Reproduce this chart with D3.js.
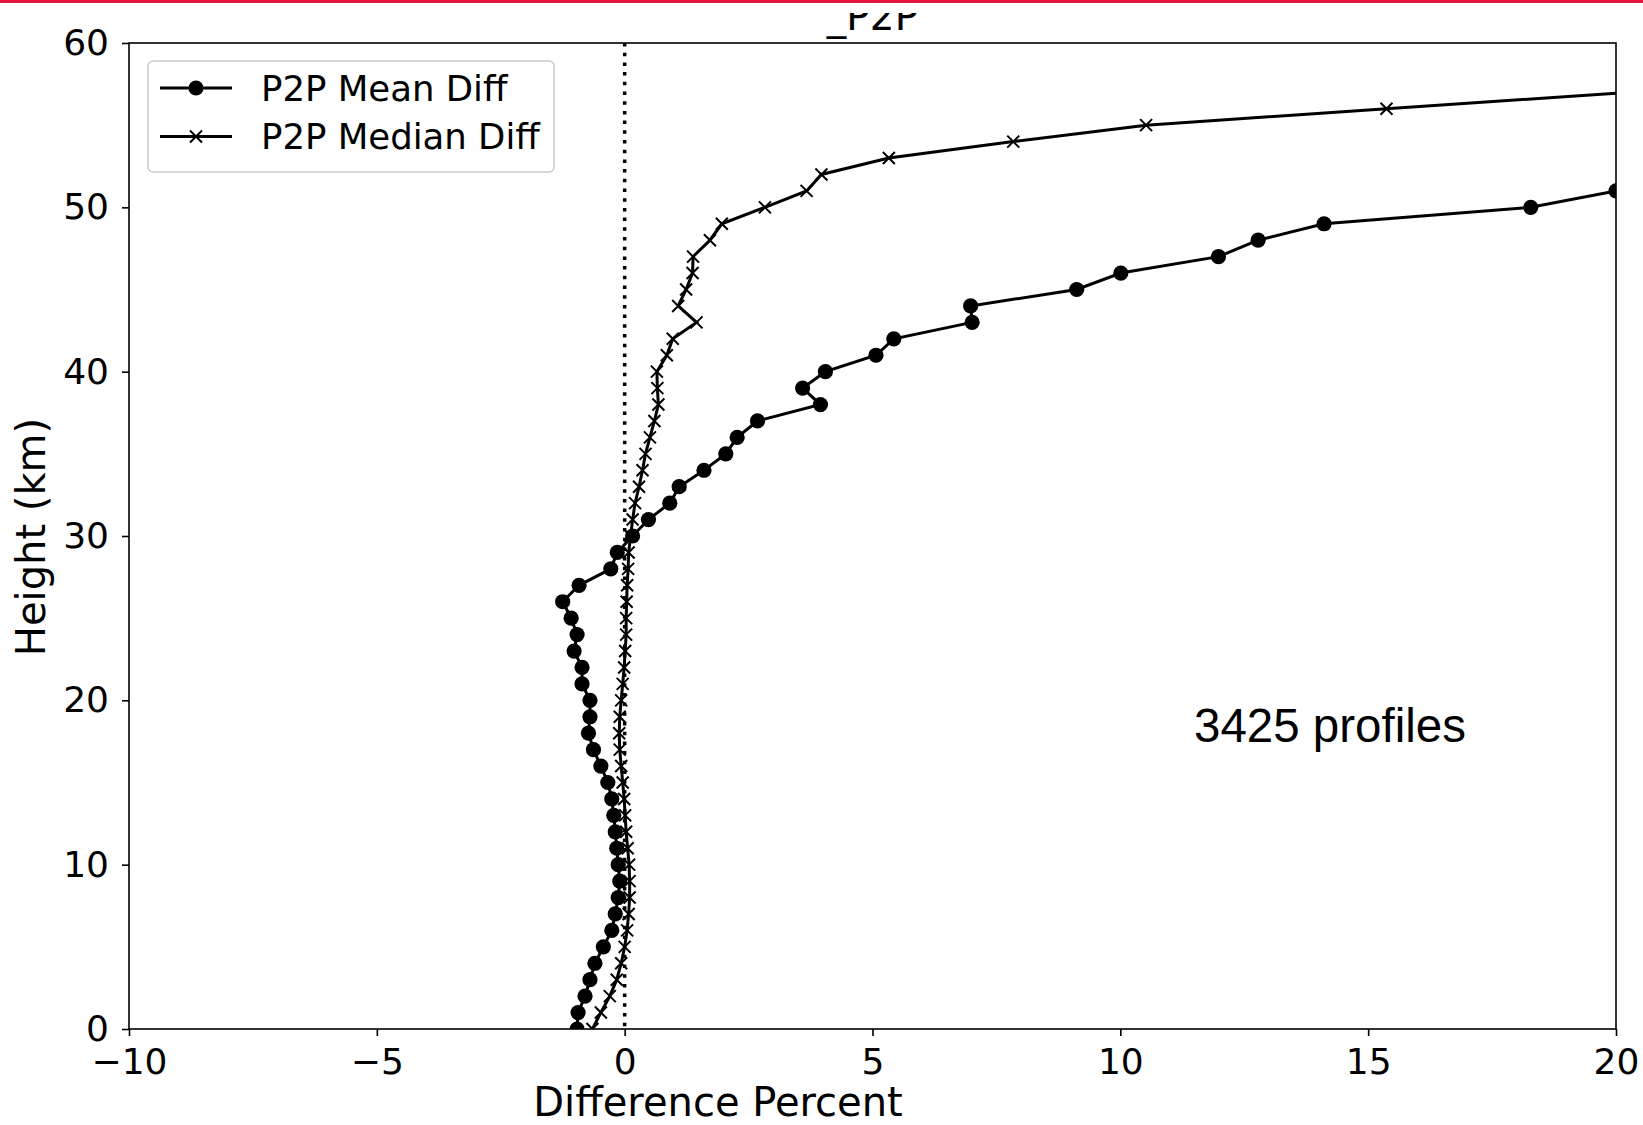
<!DOCTYPE html>
<html lang="en">
<head>
<meta charset="utf-8">
<title>P2P Difference Profile</title>
<script src="https://d3js.org/d3.v7.min.js"></script>
<style type="text/css">
    body { margin: 0; background: white; }

    .axis path { display: none; }
    .axis line { stroke: black; stroke-width: 1.6px; }
    .axis text {
        font-family: "DejaVu Sans", sans-serif;
        font-size: 36px;
        fill: black;
    }

    .label, .title, .legend text {
        font-family: "DejaVu Sans", sans-serif;
        fill: black;
    }

    .line { fill: none; stroke: black; stroke-width: 3px; }
    .zero { stroke: black; stroke-width: 3.5px; stroke-dasharray: 3.5 6.2; }
    .xmark { fill: none; stroke: black; stroke-width: 2px; }
</style>
</head>
<body>
<script type="text/javascript">

    // heights (km) and difference percent
    const meanHeights = [0,1,2,3,4,5,6,7,8,9,10,11,12,13,14,15,16,17,18,19,20,
                         21,22,23,24,25,26,27,28,29,30,31,32,33,34,35,36,37,38,39,40,
                         41,42,43,44,45,46,47,48,49,50,51];
    const meanDiff = [-0.96,-0.94,-0.80,-0.70,-0.60,-0.43,-0.26,-0.19,-0.13,-0.10,-0.13,
                      -0.16,-0.19,-0.22,-0.26,-0.34,-0.48,-0.63,-0.73,-0.70,-0.70,
                      -0.86,-0.86,-1.02,-0.96,-1.08,-1.25,-0.92,-0.28,-0.15,0.16,
                      0.48,0.91,1.10,1.60,2.04,2.27,2.68,3.95,3.59,4.05,
                      5.07,5.43,7.01,6.98,9.12,10.01,11.98,12.78,14.11,18.28,20.0];

    const medianHeights = [0,1,2,3,4,5,6,7,8,9,10,11,12,13,14,15,16,17,18,19,20,
                           21,22,23,24,25,26,27,28,29,30,31,32,33,34,35,36,37,38,39,40,
                           41,42,43,44,45,46,47,48,49,50,51,52,53,54,55,56,57];
    const medianDiff = [-0.65,-0.48,-0.30,-0.16,-0.07,0.00,0.05,0.08,0.10,0.10,0.09,
                        0.06,0.03,0.01,-0.01,-0.04,-0.07,-0.10,-0.11,-0.10,-0.07,
                        -0.04,-0.01,0.01,0.03,0.03,0.04,0.05,0.07,0.08,0.12,
                        0.16,0.21,0.29,0.36,0.42,0.51,0.60,0.68,0.66,0.65,
                        0.85,0.97,1.45,1.08,1.24,1.37,1.38,1.72,1.96,2.83,
                        3.67,3.97,5.33,7.84,10.52,15.37,20.3];

    const xTicks = [-10, -5, 0, 5, 10, 15, 20];
    const yTicks = [0, 10, 20, 30, 40, 50, 60];
    const seriesNames = ["P2P Mean Diff", "P2P Median Diff"];
    const titleText = "_P2P";
    const xLabel = "Difference Percent";
    const yLabel = "Height (km)";
    const noteText = "3425 profiles";

    const w = 1643;
    const h = 1125;
    const plotLeft = 129, plotRight = 1616, plotTop = 43, plotBottom = 1029;

    const meanData = meanHeights.map((k, i) => ({h: k, v: meanDiff[i]}));
    const medianData = medianHeights.map((k, i) => ({h: k, v: medianDiff[i]}));

    const xScale = d3.scaleLinear().domain([-10, 20]).range([plotLeft, plotRight]);
    const yScale = d3.scaleLinear().domain([0, 60]).range([plotBottom, plotTop]);

    const svg = d3.select("body")
        .append("svg")
        .attr("width", w)
        .attr("height", h)
        .style("display", "block");

    svg.append("rect")
        .attr("width", w).attr("height", h)
        .attr("fill", "white");

    // red strip at the very top
    svg.append("rect")
        .attr("x", 0).attr("y", 0)
        .attr("width", w).attr("height", 3)
        .attr("fill", "#e4163c");

    const defs = svg.append("defs");
    defs.append("clipPath").attr("id", "plotClip")
        .append("rect")
        .attr("x", plotLeft).attr("y", plotTop)
        .attr("width", plotRight - plotLeft).attr("height", plotBottom - plotTop);
    defs.append("clipPath").attr("id", "titleClip")
        .append("rect")
        .attr("x", 0).attr("y", 13)
        .attr("width", w).attr("height", 30);

    // title, top cut off as in the screenshot
    svg.append("text")
        .attr("class", "title")
        .attr("clip-path", "url(#titleClip)")
        .attr("x", (plotLeft + plotRight) / 2)
        .attr("y", 30)
        .attr("text-anchor", "middle")
        .attr("font-size", "39px")
        .text(titleText);

    // axes
    svg.append("g")
        .attr("class", "axis")
        .attr("transform", "translate(0," + plotBottom + ")")
        .call(d3.axisBottom(xScale).tickValues(xTicks).tickSize(7).tickPadding(12));

    svg.append("g")
        .attr("class", "axis")
        .attr("transform", "translate(" + plotLeft + ",0)")
        .call(d3.axisLeft(yScale).tickValues(yTicks).tickSize(7).tickPadding(13));

    // zero reference line
    svg.append("line")
        .attr("class", "zero")
        .attr("x1", xScale(0)).attr("x2", xScale(0))
        .attr("y1", yScale(60)).attr("y2", yScale(0));

    const plot = svg.append("g").attr("clip-path", "url(#plotClip)");

    const lineGen = d3.line()
        .x(d => xScale(d.v))
        .y(d => yScale(d.h));

    // mean
    plot.append("path")
        .datum(meanData)
        .attr("class", "line")
        .attr("d", lineGen);

    plot.selectAll(".dot")
        .data(meanData)
        .join("circle")
        .attr("class", "dot")
        .attr("cx", d => xScale(d.v))
        .attr("cy", d => yScale(d.h))
        .attr("r", 7.6)
        .attr("fill", "black");

    // median
    plot.append("path")
        .datum(medianData)
        .attr("class", "line")
        .attr("d", lineGen);

    const xPath = "M-6,-6L6,6M-6,6L6,-6";
    plot.selectAll(".xmark")
        .data(medianData)
        .join("path")
        .attr("class", "xmark")
        .attr("transform", d => "translate(" + xScale(d.v) + "," + yScale(d.h) + ")")
        .attr("d", xPath);

    // frame
    svg.append("rect")
        .attr("x", plotLeft).attr("y", plotTop)
        .attr("width", plotRight - plotLeft).attr("height", plotBottom - plotTop)
        .attr("fill", "none")
        .attr("stroke", "black")
        .attr("stroke-width", 1.6);

    // axis labels
    svg.append("text")
        .attr("class", "label")
        .attr("x", 718)
        .attr("y", 1116)
        .attr("text-anchor", "middle")
        .attr("font-size", "40px")
        .text(xLabel);

    svg.append("text")
        .attr("class", "label")
        .attr("transform", "translate(45,537) rotate(-90)")
        .attr("text-anchor", "middle")
        .attr("font-size", "40px")
        .text(yLabel);

    // annotation
    svg.append("text")
        .attr("x", 1194)
        .attr("y", 742)
        .attr("font-family", "'Liberation Sans', Arial, sans-serif")
        .attr("font-size", "47.5px")
        .attr("fill", "black")
        .text(noteText);

    // legend
    const legend = svg.append("g").attr("class", "legend");
    legend.append("rect")
        .attr("x", 148).attr("y", 61)
        .attr("width", 406).attr("height", 111)
        .attr("rx", 5)
        .attr("fill", "white")
        .attr("fill-opacity", 0.8)
        .attr("stroke", "#cccccc")
        .attr("stroke-width", 1.5);

    const rows = legend.selectAll(".row")
        .data(seriesNames)
        .join("g")
        .attr("class", "row")
        .attr("transform", (d, i) => "translate(0," + (88 + i * 48.5) + ")");

    rows.append("line")
        .attr("x1", 160).attr("x2", 232)
        .attr("stroke", "black")
        .attr("stroke-width", 3);

    rows.filter((d, i) => i === 0).append("circle")
        .attr("cx", 196).attr("r", 7.6).attr("fill", "black");
    rows.filter((d, i) => i === 1).append("path")
        .attr("class", "xmark")
        .attr("transform", "translate(196,0)")
        .attr("d", xPath);

    rows.append("text")
        .attr("x", 261)
        .attr("dy", "0.36em")
        .attr("font-size", "35.5px")
        .text(d => d);

</script>
</body>
</html>
